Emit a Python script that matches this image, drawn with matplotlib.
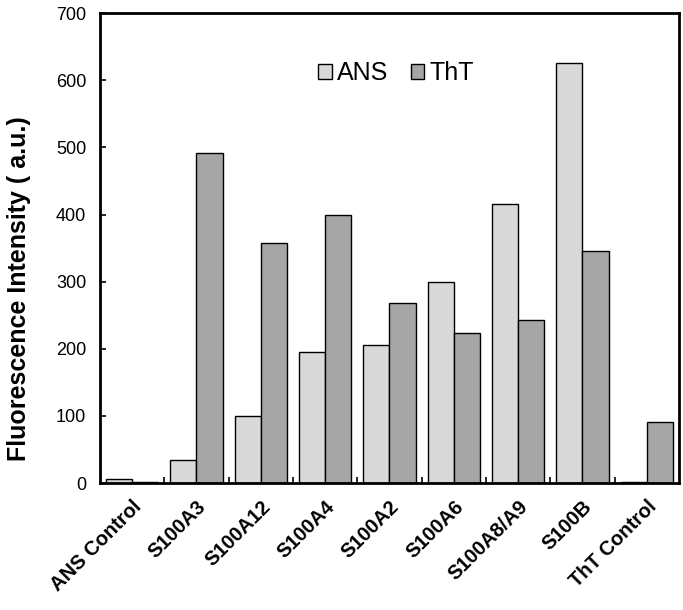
"""
Fluorescencja ANS / ThT dla białek S100.
"""

import numpy as np
import matplotlib.pyplot as plt

categories = ['ANS Control', 'S100A3', 'S100A12', 'S100A4', 'S100A2',
              'S100A6', 'S100A8/A9', 'S100B', 'ThT Control']
ans_values = [6, 35, 100, 195, 205, 300, 415, 625, 1]
tht_values = [1, 492, 357, 399, 268, 223, 243, 345, 91]
y_ticks = [0, 100, 200, 300, 400, 500, 600, 700]

plt.rcParams['font.family'] = ['Liberation Sans', 'DejaVu Sans']

fig = plt.figure(figsize=(6.83, 6.10), dpi=100)
ax = fig.add_axes([0.1464, 0.208, 0.8477, 0.7705])

x = np.arange(len(categories))
w = 0.405

ax.bar(x - w / 2, ans_values, width=w, color='#d9d9d9', edgecolor='black',
       linewidth=1.0, label='ANS')
ax.bar(x + w / 2, tht_values, width=w, color='#a6a6a6', edgecolor='black',
       linewidth=1.0, label='ThT')

ax.set_xlim(-0.5, len(categories) - 0.5)
ax.set_ylim(0, 700)
ax.set_yticks(y_ticks)
ax.tick_params(axis='y', direction='in', length=4, width=1.2, labelsize=13, pad=10)

# etykiety kategorii + krótkie kreski na granicach
ax.set_xticks(x)
ax.set_xticklabels(categories, rotation=45, ha='right', rotation_mode='anchor',
                   fontsize=14.5, fontweight='bold')
ax.tick_params(axis='x', which='major', length=0, pad=10)
ax.set_xticks(x[:-1] + 0.5, minor=True)
ax.tick_params(axis='x', which='minor', direction='in', length=4, width=1.2)

for s in ax.spines.values():
    s.set_linewidth(2)

ax.set_ylabel('Fluorescence Intensity ( a.u.)', fontsize=18, fontweight='bold')
ax.yaxis.set_label_coords(-0.12, 0.413)

ax.legend(ncol=2, frameon=False, loc='center left', bbox_to_anchor=(0.3765, 0.872),
          fontsize=18, handlelength=0.55, handleheight=0.55, handletextpad=0.2,
          columnspacing=0.9, borderpad=0, borderaxespad=0)

fig.savefig('out.png', dpi=100)
